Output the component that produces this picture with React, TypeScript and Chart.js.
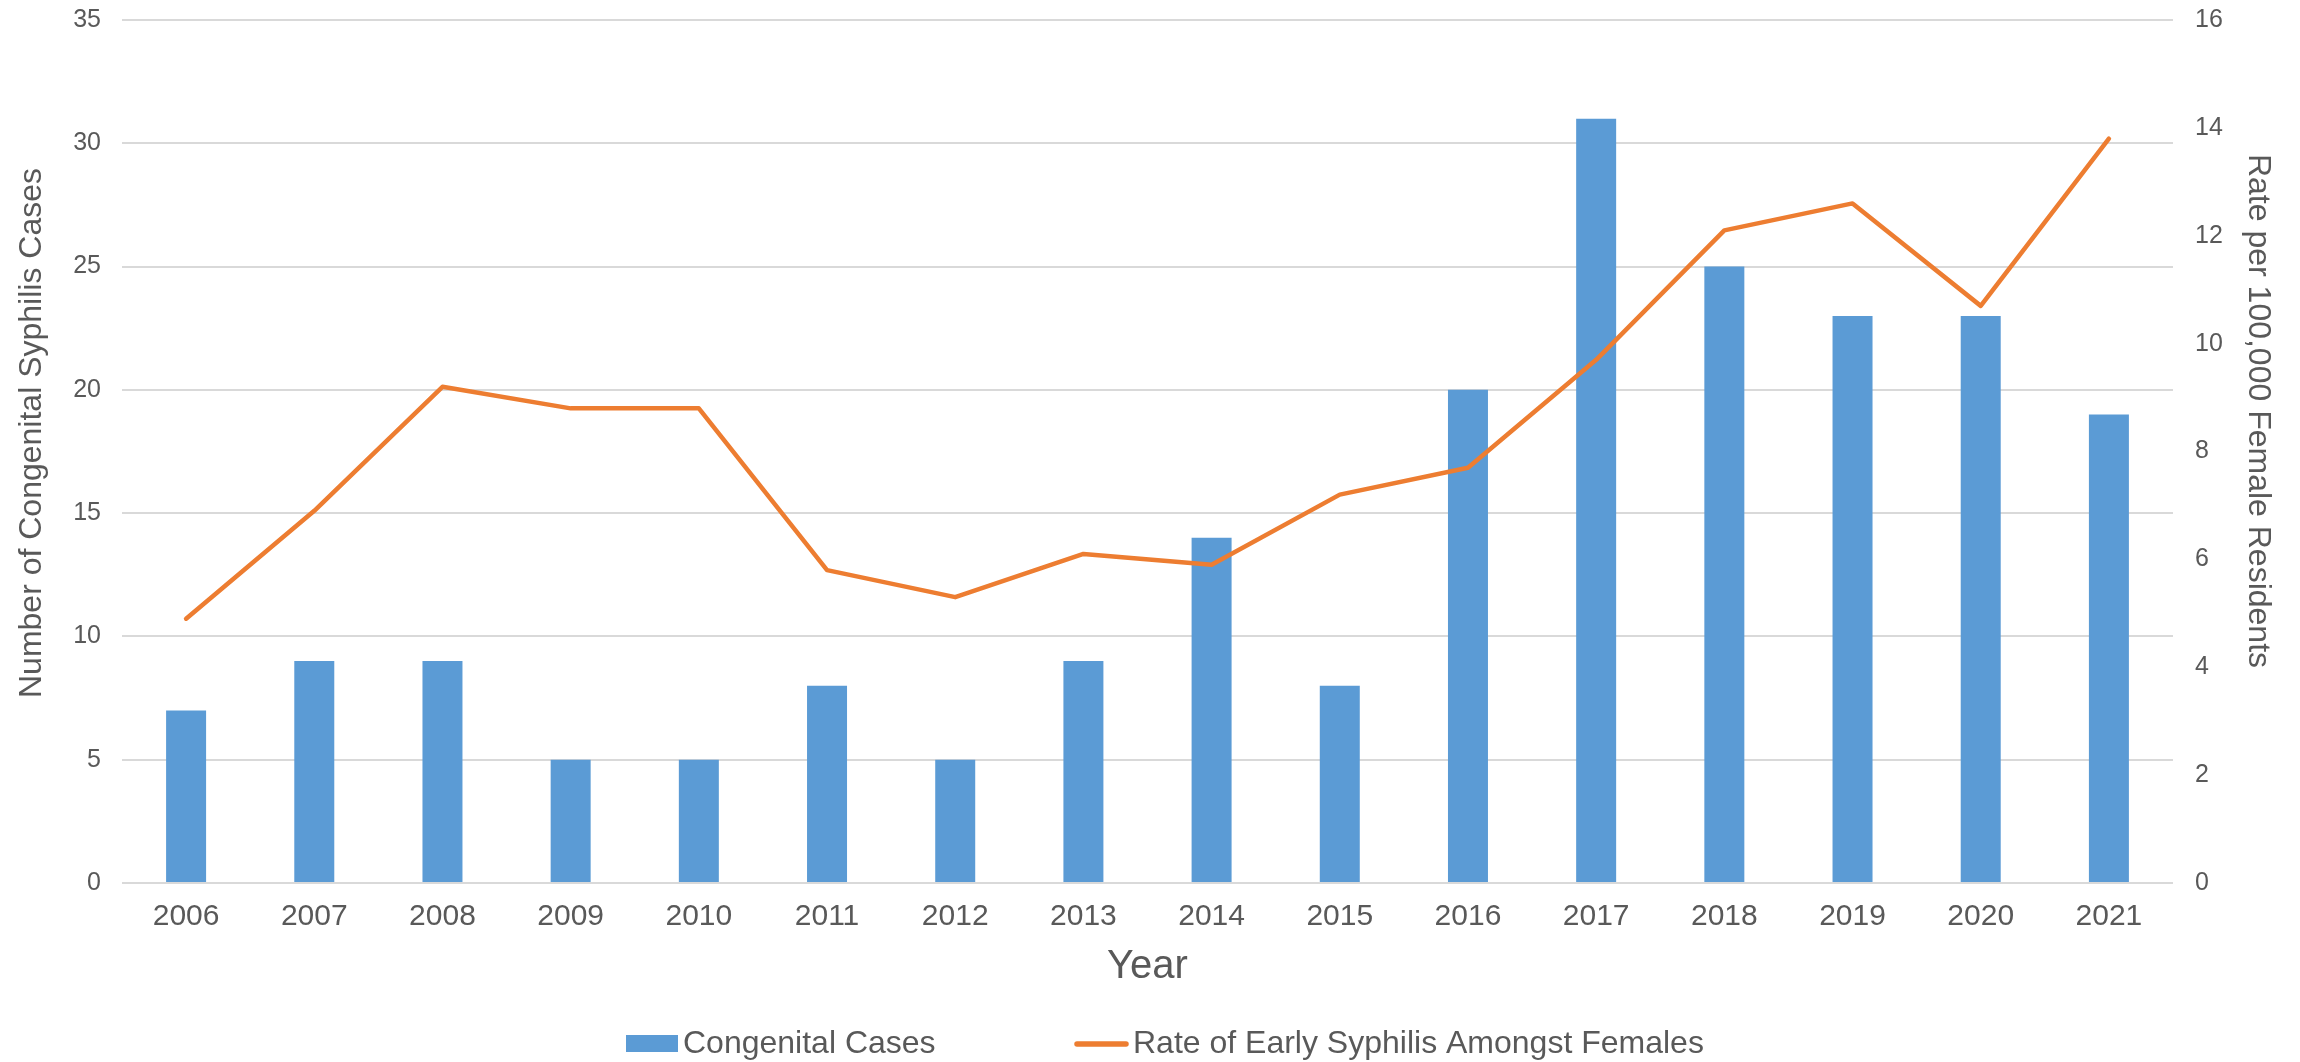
import React, { useEffect, useRef } from "react";
import { Chart, registerables } from "chart.js";

Chart.register(...registerables);

const years = ["2006", "2007", "2008", "2009", "2010", "2011", "2012", "2013", "2014", "2015", "2016", "2017", "2018", "2019", "2020", "2021"];
const congenitalCases = [7, 9, 9, 5, 5, 8, 5, 9, 14, 8, 20, 31, 25, 23, 23, 19];
const earlySyphilisRate = [4.9, 6.9, 9.2, 8.8, 8.8, 5.8, 5.3, 6.1, 5.9, 7.2, 7.7, 9.7, 12.1, 12.6, 10.7, 13.8];

const casesLabel = "Congenital Cases";
const rateLabel = "Rate of Early Syphilis Amongst Females";
const leftTitle = "Number of Congenital Syphilis Cases";
const rightTitle = "Rate per 100,000 Female Residents";
const xTitle = "Year";

const leftMax = 35;
const leftStep = 5;
const rightMax = 16;
const rightStep = 2;

const FONT = '"Liberation Sans", Arial, sans-serif';
const TEXT = "#595959";
const BLUE = "#5B9BD5";
const ORANGE = "#ED7D31";

const overlayPlugin = {
  id: "overlay",
  afterDraw(chart: any) {
    const ctx = chart.ctx;
    ctx.save();
    ctx.fillStyle = TEXT;
    ctx.font = `32px ${FONT}`;
    ctx.textAlign = "center";
    ctx.textBaseline = "middle";
    // left axis title
    ctx.save();
    ctx.translate(32, 433);
    ctx.rotate(-Math.PI / 2);
    ctx.fillText(leftTitle, 0, 0);
    ctx.restore();
    // right axis title
    ctx.save();
    ctx.translate(2258, 411);
    ctx.rotate(Math.PI / 2);
    ctx.fillText(rightTitle, 0, 0);
    ctx.restore();

    // legend
    const ds = chart.data.datasets;
    const ly = 1044;
    ctx.fillStyle = ds[1].backgroundColor;
    ctx.fillRect(626, 1035, 52, 17);
    ctx.fillStyle = TEXT;
    ctx.textAlign = "left";
    ctx.fillText(ds[1].label, 683, ly);
    ctx.strokeStyle = ds[0].borderColor;
    ctx.lineWidth = 5.5;
    ctx.lineCap = "round";
    ctx.beginPath();
    ctx.moveTo(1077, ly);
    ctx.lineTo(1126, ly);
    ctx.stroke();
    ctx.fillText(ds[0].label, 1133, ly);
    ctx.restore();
  },
};

export default function App() {
  const ref = useRef<HTMLCanvasElement>(null);

  useEffect(() => {
    if (!ref.current) return;
    const chart = new Chart(ref.current, {
      type: "bar",
      data: {
        labels: years,
        datasets: [
          {
            type: "line",
            label: rateLabel,
            data: earlySyphilisRate,
            yAxisID: "y1",
            borderColor: ORANGE,
            backgroundColor: ORANGE,
            borderWidth: 4.5,
            pointRadius: 0,
            pointHoverRadius: 0,
            borderJoinStyle: "round",
            borderCapStyle: "round",
            tension: 0,
            fill: false,
            order: 0,
          } as any,
          {
            type: "bar",
            label: casesLabel,
            data: congenitalCases,
            yAxisID: "y",
            backgroundColor: BLUE,
            borderWidth: 0,
            barPercentage: 0.312,
            categoryPercentage: 1,
            order: 1,
          } as any,
        ],
      },
      plugins: [overlayPlugin],
      options: {
        responsive: false,
        animation: false,
        devicePixelRatio: 1,
        layout: { padding: { top: 20, left: 0, right: 0, bottom: 71 } },
        plugins: {
          legend: { display: false },
          tooltip: { enabled: false },
          title: { display: false },
        },
        scales: {
          x: {
            offset: true,
            grid: { display: false, drawTicks: false },
            border: { display: false },
            ticks: {
              color: TEXT,
              font: { family: FONT, size: 30 },
              padding: 16,
              maxRotation: 0,
              autoSkip: false,
            },
            title: {
              display: true,
              text: xTitle,
              color: TEXT,
              font: { family: FONT, size: 40 },
              padding: { top: 0, bottom: 0 },
            },
            afterFit(scale: any) {
              scale.height = 108;
            },
          },
          y: {
            position: "left",
            min: 0,
            max: leftMax,
            grid: { color: "#D9D9D9", lineWidth: 2, drawTicks: false },
            border: { display: false },
            ticks: {
              stepSize: leftStep,
              color: TEXT,
              font: { family: FONT, size: 25 },
              padding: 21,
            },
            afterFit(scale: any) {
              scale.width = 122;
              scale.paddingTop = 0;
              scale.paddingBottom = 0;
            },
          },
          y1: {
            position: "right",
            min: 0,
            max: rightMax,
            grid: { display: false, drawTicks: false },
            border: { display: false },
            ticks: {
              stepSize: rightStep,
              color: TEXT,
              font: { family: FONT, size: 25 },
              padding: 22,
            },
            afterFit(scale: any) {
              scale.width = 127;
              scale.paddingTop = 0;
              scale.paddingBottom = 0;
            },
          },
        },
      } as any,
    });
    return () => chart.destroy();
  }, []);

  return (
    <canvas
      ref={ref}
      width={2300}
      height={1062}
      style={{ position: "fixed", left: 0, top: 0, width: "2300px", height: "1062px", display: "block" }}
    />
  );
}
